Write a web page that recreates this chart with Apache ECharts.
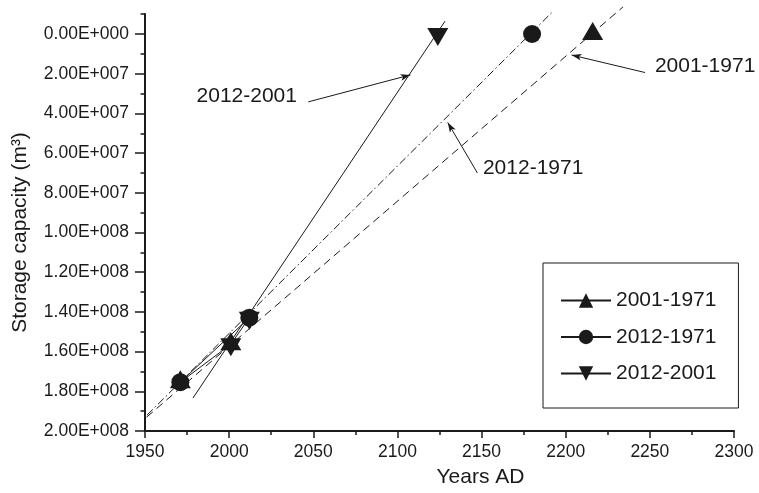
<!DOCTYPE html>
<html>
<head>
<meta charset="utf-8">
<script src="https://cdn.jsdelivr.net/npm/echarts@6/dist/echarts.min.js"></script>
<style>html,body{margin:0;padding:0;background:#fff}#c{width:759px;height:493px}</style>
</head>
<body>
<div id="c"></div>
<script>
// ---- data ----
const seriesNames = ['2001-1971', '2012-1971', '2012-2001'];
const obs2001_1971 = [[1971, 1.754e8], [2001, 1.563e8]];
const obs2012_1971 = [[1971, 1.754e8], [2012, 1.429e8]];
const obs2012_2001 = [[2001, 1.563e8], [2012, 1.429e8]];
const proj2001_1971 = [[2216, 0]];
const proj2012_1971 = [[2180, 0]];
const proj2012_2001 = [[2124, 0]];
const trend2001_1971 = [[1951, 1.93e8], [2234, -1.36e7]];
const trend2012_1971 = [[1951.2, 1.92e8], [2191.6, -1.07e7]];
const trend2012_2001 = [[1978.5, 1.834e8], [2128.3, -0.65e7]];
const arrowFrom = [[2047, 3.42e7], [2247.1, 1.94e7], [2147.5, 7.0e7]];
const arrowTo = [[2107.7, 2.06e7], [2203.5, 1.06e7], [2129.9, 4.46e7]];
const annotationTexts = ['2012-2001', '2001-1971', '2012-1971'];
const annotationAt = [[2040.3, 3.12e7], [2253, 1.63e7], [2150.8, 6.76e7]];
const annotationAlign = ['right', 'left', 'left'];
const xTickLabels = ['1950', '2000', '2050', '2100', '2150', '2200', '2250', '2300'];
const yTickLabels = ['0.00E+000', '2.00E+007', '4.00E+007', '6.00E+007', '8.00E+007', '1.00E+008',
  '1.20E+008', '1.40E+008', '1.60E+008', '1.80E+008', '2.00E+008'];

// ---- styles ----
const FONT = '"Liberation Sans", Arial, Helvetica, sans-serif';
const INK = '#1a1a1a';
const downTri = 'path://M0,0L10,0L5,8.66Z';
const UP_OFF = [0, -3];
const DOWN_OFF = [0, 3];

const chart = echarts.init(document.getElementById('c'), null, {renderer: 'canvas'});

function obsSeries(name, data, symbol, size, offset) {
  return {
    name, type: 'line', data, symbol, symbolSize: size, symbolOffset: offset, showSymbol: true,
    xAxisIndex: 0, yAxisIndex: 0, z: 5, silent: true,
    lineStyle: {color: INK, width: 1}, itemStyle: {color: INK, opacity: 1}
  };
}
function projSeries(name, data, symbol, size, offset) {
  return {
    name, type: 'scatter', data, symbol, symbolSize: size, symbolOffset: offset,
    xAxisIndex: 0, yAxisIndex: 0, z: 5, silent: true, clip: false,
    itemStyle: {color: INK, opacity: 1}
  };
}
function trendSeries(name, data, dash, extra) {
  return Object.assign({
    name, type: 'line', data, symbol: 'none', showSymbol: false, clip: false,
    xAxisIndex: 0, yAxisIndex: 0, z: 3, silent: true,
    lineStyle: {color: INK, width: 1, type: dash}
  }, extra || {});
}

const option = {
  animation: false,
  backgroundColor: '#fff',
  textStyle: {fontFamily: FONT, color: INK},
  grid: [
    {left: 145, right: 25, top: 34, bottom: 61},
    {left: 145, right: 25, top: 14, height: 20}
  ],
  xAxis: [
    {
      type: 'value', gridIndex: 0, min: 1950, max: 2300, interval: 50,
      name: 'Years AD', nameLocation: 'middle', nameGap: 36,
      nameTextStyle: {fontSize: 21, fontFamily: FONT, color: INK, padding: [0, 0, 0, 82]},
      axisLine: {onZero: false, lineStyle: {color: INK, width: 2}},
      axisTick: {length: 7, lineStyle: {color: INK, width: 1.5}},
      minorTick: {show: true, splitNumber: 2, length: 4, lineStyle: {color: INK, width: 1.5}},
      splitLine: {show: false},
      axisLabel: {
        margin: 12, fontSize: 17.5, fontFamily: FONT, color: INK,
        formatter: (v) => xTickLabels[Math.round((v - 1950) / 50)]
      }
    },
    {type: 'value', gridIndex: 1, min: 1950, max: 2300, show: false}
  ],
  yAxis: [
    {
      type: 'value', gridIndex: 0, min: 0, max: 2e8, interval: 2e7, inverse: true,
      name: 'Storage capacity (m³)', nameLocation: 'middle', nameGap: 114,
      nameTextStyle: {fontSize: 21, fontFamily: FONT, color: INK},
      axisLine: {onZero: false, lineStyle: {color: INK, width: 2}},
      axisTick: {length: 10, lineStyle: {color: INK, width: 1.5}},
      minorTick: {show: true, splitNumber: 2, length: 4.5, lineStyle: {color: INK, width: 1.5}},
      splitLine: {show: false},
      axisLabel: {
        margin: 16, fontSize: 17.5, fontFamily: FONT, color: INK,
        formatter: (v) => yTickLabels[Math.round(v / 2e7)]
      }
    },
    {
      type: 'value', gridIndex: 1, min: -1e7, max: 0, interval: 1e7, inverse: true,
      axisLine: {onZero: false, lineStyle: {color: INK, width: 2}},
      axisTick: {length: 4.5, lineStyle: {color: INK, width: 1.5}},
      splitLine: {show: false},
      axisLabel: {show: false}
    }
  ],
  legend: {
    data: seriesNames,
    orient: 'vertical', left: 543, top: 263,
    padding: [27, 22, 24, 17],
    itemWidth: 50, itemHeight: 18, itemGap: 15.5,
    borderColor: INK, borderWidth: 1,
    textStyle: {fontSize: 21, fontFamily: FONT, color: INK},
    selectedMode: false
  },
  series: [
    obsSeries(seriesNames[0], obs2001_1971, 'triangle', [21, 18], UP_OFF),
    obsSeries(seriesNames[1], obs2012_1971, 'circle', 18, [0, 0]),
    obsSeries(seriesNames[2], obs2012_2001, downTri, [21, 18], DOWN_OFF),
    trendSeries('trend-a', trend2001_1971, [8, 5]),
    trendSeries('trend-b', trend2012_1971, [8, 3, 1.5, 3]),
    trendSeries('trend-c', trend2012_2001, 'solid', {
      markLine: {
        silent: true, animation: false,
        symbol: ['none', 'arrow'], symbolSize: [5, 10],
        label: {show: false},
        lineStyle: {color: INK, width: 1, type: 'solid'},
        data: arrowFrom.map((f, i) => [{coord: f}, {coord: arrowTo[i]}])
      }
    }),
    projSeries(seriesNames[0], proj2001_1971, 'triangle', [21, 18], UP_OFF),
    projSeries(seriesNames[1], proj2012_1971, 'circle', 18, [0, 0]),
    projSeries(seriesNames[2], proj2012_2001, downTri, [21, 18], DOWN_OFF)
  ]
};

chart.setOption(option);

const graphics = annotationTexts.map((t, i) => {
  const p = chart.convertToPixel({xAxisIndex: 0, yAxisIndex: 0}, annotationAt[i]);
  return {
    type: 'text', x: p[0], y: p[1], silent: true, z: 10,
    style: {text: t, fontSize: 21, fontFamily: FONT, fill: INK,
      align: annotationAlign[i], verticalAlign: 'middle'}
  };
});
chart.setOption({graphic: graphics});
</script>
</body>
</html>
